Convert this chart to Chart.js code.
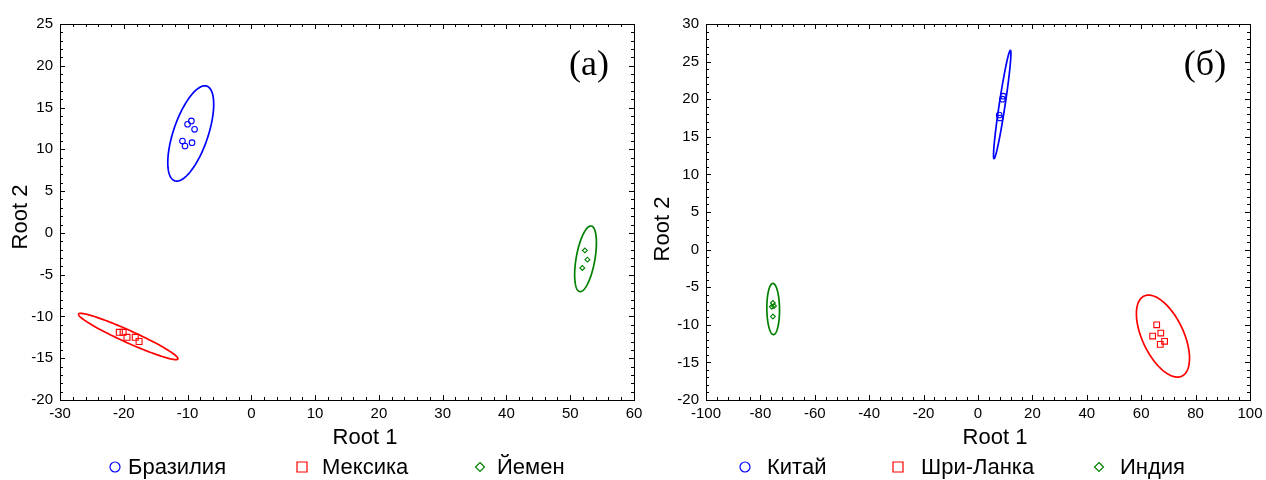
<!DOCTYPE html>
<html>
<head>
<meta charset="utf-8">
<script src="https://cdn.jsdelivr.net/npm/chart.js@4"></script>
<style>
  body { margin: 0; background: #fff; }
  #wrap { position: relative; width: 1266px; height: 480px; }
  #chartA { position: absolute; left: 0; top: 0; }
  #chartB { position: absolute; left: 640px; top: 0; }
</style>
</head>
<body>
<div id="wrap">
  <canvas id="chartA" width="660" height="480"></canvas>
  <canvas id="chartB" width="626" height="480"></canvas>
</div>
<script>
// panel (а): Root 1 / Root 2 scores
const brazilX = [-10.0, -9.4, -8.9, -10.8, -10.4, -9.3];
const brazilY = [13.0, 13.4, 12.4, 11.0, 10.4, 10.8];
const mexicoX = [-20.7, -20.1, -19.5, -18.2, -17.6];
const mexicoY = [-11.9, -11.9, -12.5, -12.5, -13.0];
const yemenX = [52.3, 52.7, 51.9];
const yemenY = [-2.1, -3.2, -4.2];

// panel (б)
const chinaX = [9.3, 9.0, 7.8, 8.1];
const chinaY = [20.4, 20.0, 17.9, 17.5];
const sriLankaX = [65.7, 64.2, 67.2, 68.6, 67.0];
const sriLankaY = [-10.0, -11.5, -11.1, -12.2, -12.6];
const indiaX = [-75.4, -75.0, -75.8, -75.4];
const indiaY = [-7.1, -7.5, -7.6, -8.9];

// confidence ellipses: centre x, centre y, then two conjugate semi-axes (ux, uy, vx, vy)
const brazilEllipse = [-9.5, 11.9, 2.2, 5.7, 2.85, 0];
const mexicoEllipse = [-19.3, -12.4, -7.8, 2.65, 0, 0.8];
const yemenEllipse = [52.4, -3.1, 0.83, 3.93, 1.49, 0];
const chinaEllipse = [8.9, 19.3, 3.0, 7.2, 1.1, 0];
const sriLankaEllipse = [68.0, -11.5, -5.3, 5.45, 8.2, 0];
const indiaEllipse = [-75.3, -7.9, -0.1, 3.4, 2.33, 0];

const BLUE = '#0000ff', RED = '#ff0000', GREEN = '#008000';
const SANS = '"Liberation Sans", Arial, sans-serif';

function toPoints(xs, ys) {
  return xs.map((x, i) => ({ x: x, y: ys[i] }));
}

function drawMarker(ctx, style, color, x, y, r) {
  ctx.save();
  ctx.strokeStyle = color;
  ctx.lineWidth = 1.2;
  ctx.beginPath();
  if (style === 'circle') {
    ctx.arc(x, y, r, 0, 2 * Math.PI);
  } else if (style === 'rect') {
    ctx.rect(x - r, y - r, 2 * r, 2 * r);
  } else {
    ctx.moveTo(x, y - r); ctx.lineTo(x + r, y); ctx.lineTo(x, y + r); ctx.lineTo(x - r, y); ctx.closePath();
  }
  ctx.stroke();
  ctx.restore();
}

// ellipses, frame with inward ticks, titles and legend
const panelDecor = {
  id: 'panelDecor',
  beforeDatasetsDraw(chart) {
    const { ctx, scales: { x, y } } = chart;
    const opts = chart.config.options.plugins.panelDecor;
    opts.ellipses.forEach(e => {
      const p = e.params;
      ctx.save();
      ctx.beginPath();
      for (let k = 0; k <= 180; k++) {
        const t = k / 180 * 2 * Math.PI;
        const px = x.getPixelForValue(p[0] + p[2] * Math.cos(t) + p[4] * Math.sin(t));
        const py = y.getPixelForValue(p[1] + p[3] * Math.cos(t) + p[5] * Math.sin(t));
        if (k === 0) ctx.moveTo(px, py); else ctx.lineTo(px, py);
      }
      ctx.strokeStyle = e.color;
      ctx.lineWidth = 1.7;
      ctx.stroke();
      ctx.restore();
    });
  },
  afterDraw(chart) {
    const { ctx, chartArea: a, scales: { x, y } } = chart;
    const opts = chart.config.options.plugins.panelDecor;
    ctx.save();
    ctx.strokeStyle = '#000';
    ctx.lineWidth = 1;
    ctx.strokeRect(Math.round(a.left) + 0.5, Math.round(a.top) + 0.5,
                   Math.round(a.right - a.left), Math.round(a.bottom - a.top));

    ctx.beginPath();
    for (let v = x.min; v <= x.max + 1e-9; v += opts.xMinor) {
      const px = Math.round(x.getPixelForValue(v)) + 0.5;
      const len = Math.abs(v / opts.xMajor - Math.round(v / opts.xMajor)) < 1e-6 ? 5 : 3;
      ctx.moveTo(px, a.bottom); ctx.lineTo(px, a.bottom - len);
      ctx.moveTo(px, a.top); ctx.lineTo(px, a.top + len);
    }
    for (let v = y.min; v <= y.max + 1e-9; v += opts.yMinor) {
      const py = Math.round(y.getPixelForValue(v)) + 0.5;
      const len = Math.abs(v / opts.yMajor - Math.round(v / opts.yMajor)) < 1e-6 ? 5 : 3;
      ctx.moveTo(a.left, py); ctx.lineTo(a.left + len, py);
      ctx.moveTo(a.right, py); ctx.lineTo(a.right - len, py);
    }
    ctx.stroke();

    ctx.fillStyle = '#000';
    ctx.font = '22px ' + SANS;
    ctx.textAlign = 'center';
    ctx.textBaseline = 'middle';
    ctx.fillText('Root 1', opts.xTitleAt, 438);
    ctx.save();
    ctx.translate(opts.yTitleAt[0], opts.yTitleAt[1]);
    ctx.rotate(-Math.PI / 2);
    ctx.fillText('Root 2', 0, 0);
    ctx.restore();

    ctx.font = '36px "Liberation Serif", "Times New Roman", serif';
    ctx.fillText(opts.tag, opts.tagAt[0], opts.tagAt[1]);

    ctx.font = '22px ' + SANS;
    ctx.textAlign = 'left';
    opts.legend.forEach(item => {
      drawMarker(ctx, item.style, item.color, item.markerX, 467, item.style === 'rectRot' ? 4.5 : 5);
      ctx.fillStyle = '#000';
      ctx.fillText(item.label, item.textX, 468);
    });
    ctx.restore();
  }
};

function makeChart(id, cfg) {
  return new Chart(document.getElementById(id), {
    type: 'scatter',
    data: {
      datasets: cfg.groups.map(g => ({
        label: g.label,
        data: toPoints(g.xs, g.ys),
        pointStyle: g.style,
        pointRadius: g.radius,
        borderColor: g.color,
        backgroundColor: 'rgba(0,0,0,0)',
        borderWidth: 1.1
      }))
    },
    options: {
      responsive: false,
      animation: false,
      layout: { padding: { top: 24, right: cfg.padRight, bottom: 0, left: 0 } },
      plugins: {
        legend: { display: false },
        tooltip: { enabled: false },
        panelDecor: cfg.decor
      },
      scales: {
        x: {
          type: 'linear', min: cfg.xMin, max: cfg.xMax,
          grid: { display: false, drawTicks: false },
          border: { display: false },
          ticks: { stepSize: cfg.decor.xMajor, autoSkip: false, maxRotation: 0, padding: 5,
                   color: '#000', font: { family: SANS, size: 15 } },
          afterFit(s) { s.height = 80; s.paddingLeft = 0; s.paddingRight = 0; }
        },
        y: {
          type: 'linear', min: cfg.yMin, max: cfg.yMax,
          grid: { display: false, drawTicks: false },
          border: { display: false },
          ticks: { stepSize: cfg.decor.yMajor, autoSkip: false, padding: 7,
                   color: '#000', font: { family: SANS, size: 15 } },
          afterFit(s) { s.width = cfg.yWidth; s.paddingTop = 0; s.paddingBottom = 0; }
        }
      }
    },
    plugins: [panelDecor]
  });
}

makeChart('chartA', {
  xMin: -30, xMax: 60, yMin: -20, yMax: 25,
  yWidth: 60, padRight: 26,
  groups: [
    { label: 'Бразилия', xs: brazilX, ys: brazilY, style: 'circle', radius: 2.8, color: BLUE },
    { label: 'Мексика', xs: mexicoX, ys: mexicoY, style: 'rect', radius: 4.2, color: RED },
    { label: 'Йемен', xs: yemenX, ys: yemenY, style: 'rectRot', radius: 2.4, color: GREEN }
  ],
  decor: {
    xMajor: 10, xMinor: 2, yMajor: 5, yMinor: 1,
    xTitleAt: 365, yTitleAt: [21, 217], tag: '(а)', tagAt: [589, 66],
    ellipses: [
      { params: brazilEllipse, color: BLUE },
      { params: mexicoEllipse, color: RED },
      { params: yemenEllipse, color: GREEN }
    ],
    legend: [
      { label: 'Бразилия', style: 'circle', color: BLUE, markerX: 115, textX: 128 },
      { label: 'Мексика', style: 'rect', color: RED, markerX: 302, textX: 322 },
      { label: 'Йемен', style: 'rectRot', color: GREEN, markerX: 480, textX: 497 }
    ]
  }
});

makeChart('chartB', {
  xMin: -100, xMax: 100, yMin: -20, yMax: 30,
  yWidth: 66, padRight: 16,
  groups: [
    { label: 'Китай', xs: chinaX, ys: chinaY, style: 'circle', radius: 2.8, color: BLUE },
    { label: 'Шри-Ланка', xs: sriLankaX, ys: sriLankaY, style: 'rect', radius: 4.0, color: RED },
    { label: 'Индия', xs: indiaX, ys: indiaY, style: 'rectRot', radius: 2.4, color: GREEN }
  ],
  decor: {
    xMajor: 20, xMinor: 4, yMajor: 5, yMinor: 1,
    xTitleAt: 355, yTitleAt: [23, 229], tag: '(б)', tagAt: [565, 66],
    ellipses: [
      { params: chinaEllipse, color: BLUE },
      { params: sriLankaEllipse, color: RED },
      { params: indiaEllipse, color: GREEN }
    ],
    legend: [
      { label: 'Китай', style: 'circle', color: BLUE, markerX: 105, textX: 127 },
      { label: 'Шри-Ланка', style: 'rect', color: RED, markerX: 258, textX: 281 },
      { label: 'Индия', style: 'rectRot', color: GREEN, markerX: 459, textX: 480 }
    ]
  }
});
</script>
</body>
</html>
